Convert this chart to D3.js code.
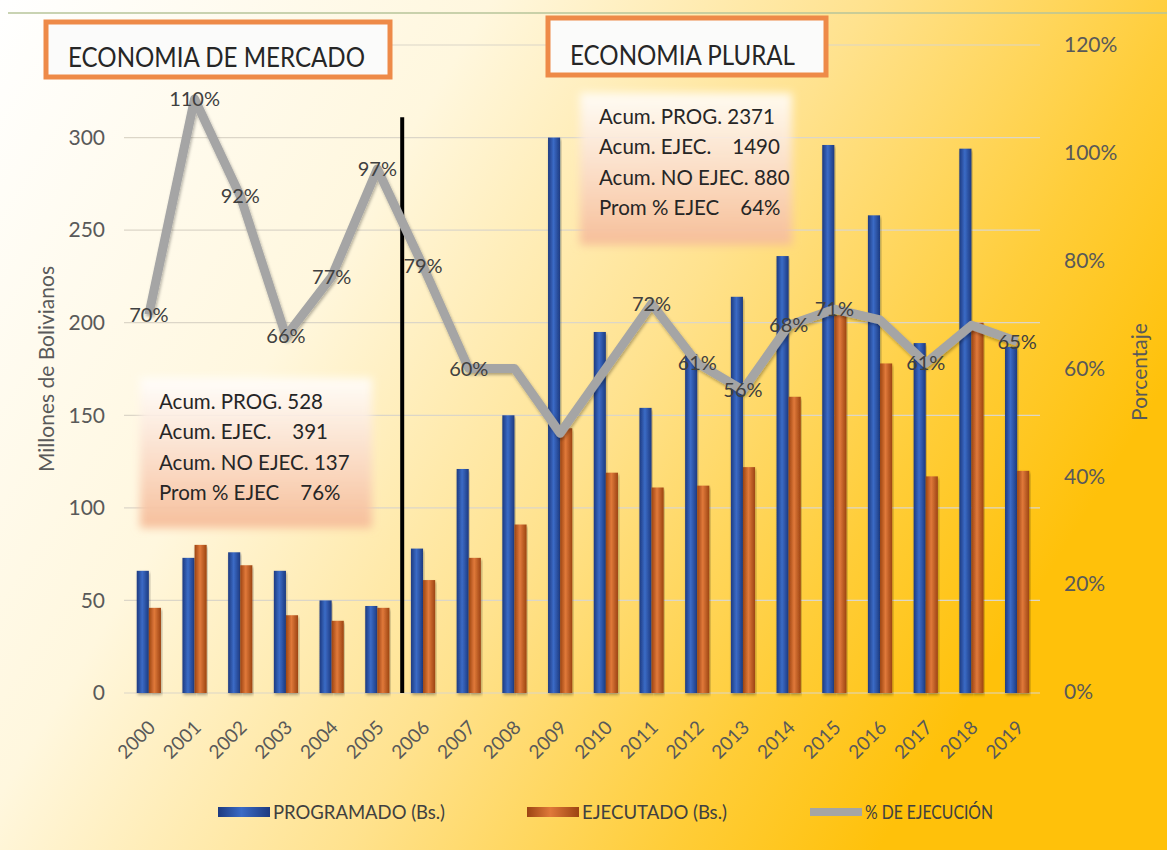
<!DOCTYPE html>
<html>
<head>
<meta charset="utf-8">
<script src="https://cdn.jsdelivr.net/npm/d3@7"></script>
<style>
  body { margin: 0; background: #fff; }
  svg text { font-family: Lato, "Open Sans", sans-serif; }
</style>
</head>
<body>
<div class="chart"></div>
<script>
// datos
var years = ["2000","2001","2002","2003","2004","2005","2006","2007","2008","2009",
             "2010","2011","2012","2013","2014","2015","2016","2017","2018","2019"];
var programado = [66, 73, 76, 66, 50, 47, 78, 121, 150, 300, 195, 154, 183, 214, 236, 296, 258, 189, 294, 187];
var ejecutado  = [46, 80, 69, 42, 39, 46, 61, 73, 91, 143, 119, 111, 112, 122, 160, 204, 178, 117, 200, 120];
var porcentaje = [0.70, 1.10, 0.92, 0.66, 0.77, 0.97, 0.79, 0.60, 0.60, 0.48, 0.60, 0.72, 0.61, 0.56, 0.68, 0.71, 0.69, 0.61, 0.68, 0.65];
// años con etiqueta visible
var labelYears = ["2000","2001","2002","2003","2004","2005","2006","2007","2011","2012","2013","2014","2015","2017","2019"];
var leftTicks = [0, 50, 100, 150, 200, 250, 300];
var rightTicks = [0, 0.2, 0.4, 0.6, 0.8, 1.0, 1.2];
var notaMercado = ["Acum. PROG. 528", "Acum. EJEC.    391", "Acum. NO EJEC. 137", "Prom % EJEC    76%"];
var notaPlural = ["Acum. PROG. 2371", "Acum. EJEC.    1490", "Acum. NO EJEC. 880", "Prom % EJEC    64%"];
var legendItems = ["PROGRAMADO (Bs.)", "EJECUTADO (Bs.)", "% DE EJECUCIÓN"];

var svgWidth = 1167;
var svgHeight = 850;
var plot = { left: 126, right: 1040, top: 45, bottom: 693 };

var svg = d3.select(".chart")
  .append("svg")
  .attr("width", svgWidth)
  .attr("height", svgHeight);

var defs = svg.append("defs");

// fondo degradado blanco -> dorado
var bg = defs.append("linearGradient").attr("id", "bg")
  .attr("x1", 0).attr("y1", 0).attr("x2", 1).attr("y2", 0.45);
bg.append("stop").attr("offset", "0").attr("stop-color", "#ffffff");
bg.append("stop").attr("offset", "0.35").attr("stop-color", "#fff7de");
bg.append("stop").attr("offset", "0.62").attr("stop-color", "#ffe28e");
bg.append("stop").attr("offset", "0.85").attr("stop-color", "#ffcd38");
bg.append("stop").attr("offset", "1").attr("stop-color", "#ffc10a");

function barGradient(id, dark, light) {
  var g = defs.append("linearGradient").attr("id", id)
    .attr("x1", 0).attr("y1", 0).attr("x2", 1).attr("y2", 0);
  g.append("stop").attr("offset", "0").attr("stop-color", dark);
  g.append("stop").attr("offset", "0.45").attr("stop-color", light);
  g.append("stop").attr("offset", "1").attr("stop-color", dark);
}
barGradient("gBlue", "#1d3a80", "#3b6bc6");
barGradient("gOrange", "#9c4412", "#e0793a");

var note = defs.append("linearGradient").attr("id", "gNote")
  .attr("x1", 0).attr("y1", 0).attr("x2", 0).attr("y2", 1);
note.append("stop").attr("offset", "0").attr("stop-color", "#ffffff").attr("stop-opacity", 0.85);
note.append("stop").attr("offset", "1").attr("stop-color", "#f6bc98").attr("stop-opacity", 0.95);

defs.append("filter").attr("id", "soft")
  .append("feGaussianBlur").attr("stdDeviation", 4);
var shadow = defs.append("filter").attr("id", "shadow")
  .attr("x", "-10%").attr("y", "-10%").attr("width", "120%").attr("height", "130%");
shadow.append("feDropShadow").attr("dx", 1).attr("dy", 2).attr("stdDeviation", 1.5)
  .attr("flood-color", "#000").attr("flood-opacity", 0.3);

svg.append("rect").attr("width", svgWidth).attr("height", svgHeight).attr("fill", "url(#bg)");
svg.append("line").attr("x1", 8).attr("x2", svgWidth).attr("y1", 13).attr("y2", 13)
  .attr("stroke", "#b7c59a").attr("stroke-width", 1.5);

// escalas
var x0 = d3.scaleBand().domain(years).range([plot.left, plot.right]).paddingInner(0.47).paddingOuter(0.235);
var x1 = d3.scaleBand().domain(["prog", "ejec"]).range([0, x0.bandwidth()]);
var yLeft = d3.scaleLinear().domain([0, 350]).range([plot.bottom, plot.top]);
var yRight = d3.scaleLinear().domain([0, 1.2]).range([plot.bottom - 1, plot.top]);
var cx = function(d) { return x0(d) + x0.bandwidth() / 2; };

// lineas de cuadricula
svg.append("g")
  .selectAll("line")
  .data(leftTicks.concat([350]))
  .enter()
  .append("line")
  .attr("x1", plot.left - 2).attr("x2", plot.right)
  .attr("y1", d => yLeft(d)).attr("y2", d => yLeft(d))
  .attr("stroke", "#dcd6c8").attr("stroke-width", 1.2);

// ejes
var leftAxis = d3.axisLeft(yLeft).tickValues(leftTicks).tickSize(0).tickPadding(21);
var gl = svg.append("g").attr("transform", `translate(${plot.left},0)`).call(leftAxis);
var rightAxis = d3.axisRight(yRight).tickValues(rightTicks).tickSize(0).tickPadding(24)
  .tickFormat(d3.format(".0%"));
var gr = svg.append("g").attr("transform", `translate(${plot.right},0)`).call(rightAxis);
var bottomAxis = d3.axisBottom(x0).tickSize(0).tickPadding(0);
var gb = svg.append("g").attr("transform", `translate(0,${plot.bottom})`).call(bottomAxis);
[gl, gr, gb].forEach(function(g) {
  g.select(".domain").remove();
  g.selectAll("text").attr("fill", "#595959").style("font-size", "21px");
});
gb.selectAll("text")
  .style("font-size", "19px")
  .attr("text-anchor", "end")
  .attr("transform", "translate(3,31) rotate(-45)")
  .attr("dy", "0.35em")
  .attr("y", 0);

// barras
var groups = svg.append("g")
  .selectAll("g")
  .data(years)
  .enter()
  .append("g")
  .attr("transform", d => `translate(${x0(d)},0)`);

groups.append("rect")
  .attr("x", x1("prog"))
  .attr("width", x1.bandwidth())
  .attr("y", (d, i) => yLeft(programado[i]))
  .attr("height", (d, i) => yLeft(0) - yLeft(programado[i]))
  .attr("fill", "url(#gBlue)")
  .attr("filter", "url(#shadow)");

groups.append("rect")
  .attr("x", x1("ejec"))
  .attr("width", x1.bandwidth())
  .attr("y", (d, i) => yLeft(ejecutado[i]))
  .attr("height", (d, i) => yLeft(0) - yLeft(ejecutado[i]))
  .attr("fill", "url(#gOrange)")
  .attr("filter", "url(#shadow)");

// linea divisoria entre periodos
var xDiv = (cx("2005") + cx("2006")) / 2 + 2;
svg.append("line")
  .attr("x1", xDiv).attr("x2", xDiv)
  .attr("y1", yLeft(0)).attr("y2", yLeft(311))
  .attr("stroke", "#000").attr("stroke-width", 4);

// linea de % de ejecucion
var line = d3.line()
  .x((d, i) => cx(years[i]))
  .y(d => yRight(d));

svg.append("path")
  .datum(porcentaje)
  .attr("d", line)
  .attr("fill", "none")
  .attr("stroke", "#a5a5a5")
  .attr("stroke-width", 9)
  .attr("stroke-linejoin", "round")
  .attr("filter", "url(#shadow)");

// etiquetas de datos
svg.append("g")
  .selectAll("text")
  .data(years)
  .enter()
  .filter(d => labelYears.indexOf(d) >= 0)
  .append("text")
  .attr("x", d => cx(d))
  .attr("y", (d) => yRight(porcentaje[years.indexOf(d)]))
  .attr("dy", "0.35em")
  .attr("text-anchor", "middle")
  .attr("fill", "#404040")
  .style("font-size", "20px")
  .text(d => d3.format(".0%")(porcentaje[years.indexOf(d)]));

// cuadros de notas
function noteBox(x, y, w, h, lines) {
  svg.append("rect")
    .attr("x", x).attr("y", y).attr("width", w).attr("height", h)
    .attr("fill", "url(#gNote)").attr("filter", "url(#soft)");
  svg.append("g")
    .selectAll("text")
    .data(lines)
    .enter()
    .append("text")
    .attr("x", x + 19)
    .attr("y", (d, i) => y + 24 + i * 30.3)
    .attr("dy", "0.35em")
    .attr("fill", "#262626")
    .style("font-size", "20.5px")
    .style("white-space", "pre")
    .text(d => d);
}
noteBox(140, 378, 232, 150, notaMercado);
noteBox(580, 93, 212, 152, notaPlural);

// titulos de periodo
function titleBox(x, y, w, h, label, len) {
  svg.append("rect")
    .attr("x", x).attr("y", y).attr("width", w).attr("height", h)
    .attr("fill", "#fbfbfa").attr("stroke", "#ee8a48").attr("stroke-width", 5);
  svg.append("text")
    .attr("x", x + 22).attr("y", y + h - 10)
    .attr("fill", "#262626")
    .style("font-size", "27px")
    .attr("textLength", len)
    .attr("lengthAdjust", "spacingAndGlyphs")
    .text(label);
}
titleBox(46, 22, 344, 55, "ECONOMIA DE MERCADO", 297);
titleBox(548, 18, 278, 57, "ECONOMIA PLURAL", 225);

// titulos de ejes
svg.append("text")
  .attr("transform", `translate(54, 369) rotate(-90)`)
  .attr("text-anchor", "middle")
  .attr("fill", "#595959")
  .style("font-size", "21px")
  .text("Millones de Bolivianos");

svg.append("text")
  .attr("transform", `translate(1147, 372) rotate(-90)`)
  .attr("text-anchor", "middle")
  .attr("fill", "#595959")
  .style("font-size", "21px")
  .text("Porcentaje");

// leyenda
var legendX = [218, 527, 810];
var legend = svg.append("g")
  .selectAll("g")
  .data(legendItems)
  .enter()
  .append("g")
  .attr("transform", (d, i) => `translate(${legendX[i]}, 812)`);

legend.filter((d, i) => i < 2)
  .append("rect")
  .attr("x", 0).attr("y", -5).attr("width", 52).attr("height", 10)
  .attr("fill", (d, i) => i === 0 ? "url(#gBlue)" : "url(#gOrange)");
legend.filter((d, i) => i === 2)
  .append("line")
  .attr("x1", 0).attr("x2", 52).attr("y1", 0).attr("y2", 0)
  .attr("stroke", "#a5a5a5").attr("stroke-width", 8);
legend.append("text")
  .attr("x", 55).attr("y", 0).attr("dy", "0.35em")
  .attr("fill", "#404040")
  .style("font-size", "19px")
  .attr("textLength", (d, i) => [172, 145, 128][i])
  .attr("lengthAdjust", "spacingAndGlyphs")
  .text(d => d);
</script>
</body>
</html>
